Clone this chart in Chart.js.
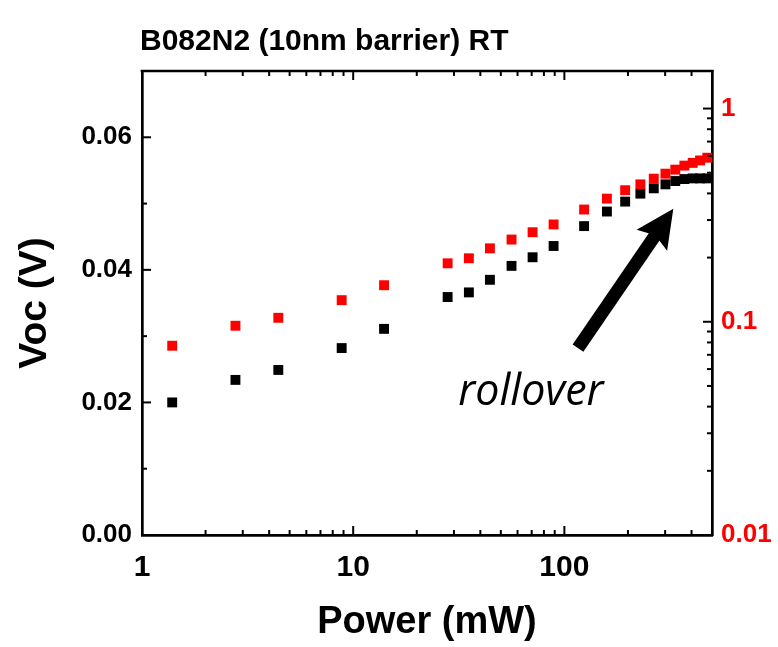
<!DOCTYPE html>
<html>
<head>
<meta charset="utf-8">
<script src="https://cdn.jsdelivr.net/npm/chart.js@4/dist/chart.umd.min.js"></script>
<style>
html,body{margin:0;padding:0;background:#fff;}
canvas{display:block;}
</style>
</head>
<body>
<canvas id="c" width="778" height="647"></canvas>
<script>
// ---- data ----
const power = [1.39, 2.77, 4.42, 8.82, 14.0, 28.0, 35.3, 44.4, 56.2, 70.7, 88.9, 124, 159, 194, 229, 265, 301, 335, 370, 405, 439, 475];
const vocBlack = [0.0200, 0.0234, 0.0249, 0.0282, 0.0311, 0.0359, 0.0366, 0.0385, 0.0406, 0.0419, 0.0436, 0.0466, 0.0488, 0.0503, 0.0515, 0.0523, 0.0529, 0.0534, 0.0537, 0.0538, 0.0538, 0.0538];
const redSeries = [0.0772, 0.0958, 0.1044, 0.1263, 0.1484, 0.188, 0.1985, 0.221, 0.243, 0.263, 0.286, 0.336, 0.378, 0.414, 0.441, 0.469, 0.495, 0.517, 0.540, 0.556, 0.571, 0.588];
const xTicks = [1, 10, 100];
const leftTicks = [0, 0.02, 0.04, 0.06];
const rightTicks = [0.01, 0.1, 1];
const chartTitle = 'B082N2 (10nm barrier) RT';
const xTitle = 'Power (mW)';
const yTitle = 'Voc (V)';
const noteText = 'rollover';
const arrowFrom = {x: 116, y: 0.0282};
const arrowTo = {x: 328, y: 0.0492};
const noteAt = {x: 69.4, y: 0.0214};

const FONT = '"Liberation Sans", Arial, sans-serif';

const deco = {
  id: 'deco',
  afterDraw(chart) {
    const {ctx, chartArea: a, scales} = chart;
    const sx = scales.x, sy = scales.y, sy2 = scales.y2;
    ctx.save();
    ctx.strokeStyle = '#000';
    ctx.fillStyle = '#000';
    // top frame line
    ctx.lineWidth = 2.7;
    ctx.beginPath(); ctx.moveTo(a.left - 1.35, a.top); ctx.lineTo(a.right + 1.35, a.top); ctx.stroke();
    const tick = (x1, y1, x2, y2) => { ctx.beginPath(); ctx.moveTo(x1, y1); ctx.lineTo(x2, y2); ctx.stroke(); };
    ctx.lineWidth = 2;
    // bottom & top ticks (log)
    for (let d = 0; d < 3; d++) for (let k = 1; k < 10; k++) {
      const v = k * Math.pow(10, d);
      if (v <= sx.min || v >= sx.max) continue;
      const px = sx.getPixelForValue(v);
      const L = k === 1 ? 9 : 5;
      tick(px, a.bottom, px, a.bottom - L);
      tick(px, a.top, px, a.top + L);
    }
    // left ticks (linear)
    for (let i = 1; i < 7; i++) {
      const v = i * 0.01;
      const py = sy.getPixelForValue(v);
      tick(a.left, py, a.left + (i % 2 === 0 ? 9 : 5), py);
    }
    // right ticks (log)
    for (let d = -2; d <= 0; d++) for (let k = 1; k < 10; k++) {
      const v = k * Math.pow(10, d);
      if (v <= sy2.min || v >= sy2.max) continue;
      const py = sy2.getPixelForValue(v);
      tick(a.right, py, a.right - (k === 1 ? 9 : 5), py);
    }
    // arrow
    const x0 = sx.getPixelForValue(arrowFrom.x), y0 = sy.getPixelForValue(arrowFrom.y);
    const x1 = sx.getPixelForValue(arrowTo.x), y1 = sy.getPixelForValue(arrowTo.y);
    const ang = Math.atan2(y1 - y0, x1 - x0);
    const c = Math.cos(ang), s = Math.sin(ang);
    const headLen = 38, headW = 37, shaftW = 13, notch = 6;
    const bx = x1 - headLen * c, by = y1 - headLen * s;
    ctx.lineWidth = shaftW;
    ctx.lineCap = 'butt';
    ctx.beginPath(); ctx.moveTo(x0, y0); ctx.lineTo(bx + notch * c + 2 * c, by + notch * s + 2 * s); ctx.stroke();
    ctx.beginPath();
    ctx.moveTo(x1, y1);
    ctx.lineTo(bx - headW / 2 * s, by + headW / 2 * c);
    ctx.lineTo(bx + notch * c, by + notch * s);
    ctx.lineTo(bx + headW / 2 * s, by - headW / 2 * c);
    ctx.closePath(); ctx.fill();
    // note text
    ctx.font = 'italic 43px "Open Sans", ' + FONT;
    ctx.textAlign = 'center'; ctx.textBaseline = 'middle';
    ctx.fillText(noteText, sx.getPixelForValue(noteAt.x), sy.getPixelForValue(noteAt.y));
    // chart title
    ctx.font = 'bold 30px ' + FONT;
    ctx.textAlign = 'left'; ctx.textBaseline = 'alphabetic';
    ctx.fillText(chartTitle, a.left - 2, 50);
    ctx.restore();
  }
};

const toPts = (ys) => power.map((p, i) => ({x: p, y: ys[i]}));

new Chart(document.getElementById('c'), {
  type: 'scatter',
  data: {
    datasets: [
      {label: 'Voc', data: toPts(vocBlack), yAxisID: 'y', pointStyle: 'rect', pointRadius: 7, pointHoverRadius: 7,
       backgroundColor: '#000', borderWidth: 0, clip: 8, order: 2},
      {label: 'right', data: toPts(redSeries), yAxisID: 'y2', pointStyle: 'rect', pointRadius: 7, pointHoverRadius: 7,
       backgroundColor: '#ff0000', borderWidth: 0, clip: 8, order: 1}
    ]
  },
  options: {
    responsive: false,
    animation: false,
    devicePixelRatio: 1,
    layout: {padding: {top: 71, left: 0, right: 0, bottom: 0}},
    plugins: {legend: {display: false}, tooltip: {enabled: false}, title: {display: false}},
    scales: {
      x: {
        type: 'logarithmic', position: 'bottom', min: 1, max: 500,
        grid: {display: false, drawTicks: false},
        border: {display: true, color: '#000', width: 2.7},
        afterBuildTicks: (s) => { s.ticks = xTicks.map(v => ({value: v})); },
        ticks: {color: '#000', padding: 15, maxRotation: 0, autoSkip: false,
                font: {family: FONT, size: 30, weight: 'bold'},
                callback: (v) => String(v)},
        title: {display: true, text: xTitle, color: '#000', padding: {top: 0, bottom: 2},
                font: {family: FONT, size: 38, weight: 'bold', lineHeight: 1.2}},
        afterFit: (s) => { s.height = 112; }
      },
      y: {
        type: 'linear', position: 'left', min: 0, max: 0.07,
        grid: {display: false, drawTicks: false},
        border: {display: true, color: '#000', width: 2.7},
        afterBuildTicks: (s) => { s.ticks = leftTicks.map(v => ({value: v})); },
        ticks: {color: '#000', padding: 10, autoSkip: false,
                font: {family: FONT, size: 26, weight: 'bold'},
                callback: (v) => Number(v).toFixed(2)},
        title: {display: true, text: yTitle, color: '#000', padding: {top: 12, bottom: 0},
                font: {family: FONT, size: 39, weight: 'bold', lineHeight: 1.2}},
        afterFit: (s) => { s.width = 142; }
      },
      y2: {
        type: 'logarithmic', position: 'right', min: 0.01, max: 1.5,
        grid: {display: false, drawTicks: false},
        border: {display: true, color: '#000', width: 2.7},
        afterBuildTicks: (s) => { s.ticks = rightTicks.map(v => ({value: v})); },
        ticks: {color: '#ff0000', padding: 9, autoSkip: false,
                font: {family: FONT, size: 26, weight: 'bold'},
                callback: (v) => String(v)},
        afterFit: (s) => { s.width = 66; }
      }
    }
  },
  plugins: [deco]
});
</script>
</body>
</html>
